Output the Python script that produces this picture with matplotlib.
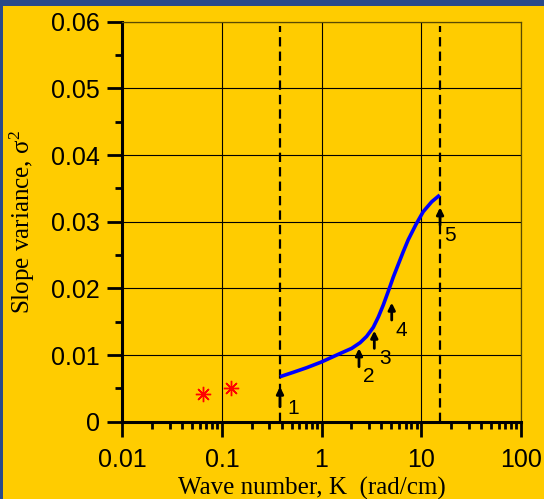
import matplotlib
matplotlib.use("Agg")
import matplotlib.pyplot as plt
from matplotlib.patches import Rectangle
from matplotlib.ticker import LogLocator, NullFormatter, MultipleLocator

# ---- data ----
k_curve = [0.383, 0.521, 0.710, 1.0, 1.47, 2.01, 2.44, 2.84, 3.31, 3.72, 4.17, 4.80,
           5.26, 5.90, 6.62, 7.43, 8.89, 10.5, 12.8, 15.4]
s_curve = [0.00675, 0.00741, 0.0081, 0.00896, 0.0101, 0.0110, 0.01185, 0.0128, 0.01415,
           0.0157, 0.0175, 0.0200, 0.0217, 0.0236, 0.0255, 0.0273, 0.0296, 0.0315,
           0.0330, 0.0340]
k_points = [0.064, 0.1225]
s_points = [0.00415, 0.0050]
k_bounds = [0.383, 15.5]
arrow_k = [0.383, 2.38, 3.39, 5.07, 15.5]
arrow_tip = [0.00525, 0.0110, 0.01365, 0.01785, 0.03215]
arrow_tail = [0.00225, 0.00825, 0.0110, 0.01525, 0.0295]
arrow_labels = ["1", "2", "3", "4", "5"]
label_k = [0.52, 2.95, 4.35, 6.38, 19.5]
label_s = [0.00205, 0.00675, 0.0095, 0.01365, 0.0280]
xtick_vals = [0.01, 0.1, 1, 10, 100]
xtick_labels = ["0.01", "0.1", "1", "10", "100"]
ytick_vals = [0, 0.01, 0.02, 0.03, 0.04, 0.05, 0.06]
ytick_labels = ["0", "0.01", "0.02", "0.03", "0.04", "0.05", "0.06"]

plt.rcParams['mathtext.fontset'] = 'custom'
plt.rcParams['mathtext.rm'] = 'Liberation Serif'
plt.rcParams['mathtext.it'] = 'Liberation Serif'

YELLOW = "#FFCC00"
fig = plt.figure(figsize=(5.44, 4.99), dpi=100, facecolor="#2a4a8a")
fig.patches.append(Rectangle((3 / 544, 0), 1, (499 - 6) / 499, transform=fig.transFigure,
                             facecolor=YELLOW, edgecolor="none", zorder=-10))

ax = fig.add_axes([122.3 / 544, (499 - 421.7) / 499, 398.4 / 544, 400 / 499])
ax.set_zorder(5)
ax.set_facecolor(YELLOW)
ax.set_xscale('log')
ax.set_xlim(0.01, 100)
ax.set_ylim(0, 0.06)

ax.grid(True, which='major', color='black', lw=0.8)
ax.set_axisbelow(True)

ax.spines['left'].set_linewidth(2.2)
ax.spines['bottom'].set_linewidth(2.2)
for s in ('top', 'right'):
    ax.spines[s].set_linewidth(0.9)
    ax.spines[s].set_color('#5a4a00')

ax.set_xticks(xtick_vals)
ax.set_xticklabels(xtick_labels)
ax.xaxis.set_minor_locator(LogLocator(base=10, subs=range(2, 10), numticks=20))
ax.xaxis.set_minor_formatter(NullFormatter())
ax.set_yticks(ytick_vals)
ax.set_yticklabels(ytick_labels)
ax.yaxis.set_minor_locator(MultipleLocator(0.005))

ax.tick_params(which='major', direction='out', length=11, width=2, pad=5,
               labelsize=18)
ax.tick_params(which='minor', direction='out', length=5, width=2)
ax.tick_params(axis='x', which='major', pad=8)
for lab in ax.get_xticklabels() + ax.get_yticklabels():
    lab.set_family('Liberation Sans')

# dashed boundaries
for kb in k_bounds:
    ax.plot([kb, kb], [0, 0.0593], color='black', lw=1.6, ls=(0, (4.2, 2.3)), zorder=3)

ax.plot(k_curve, s_curve, color='#0000FF', lw=2.6, zorder=4, solid_capstyle='butt',
        solid_joinstyle='round')
ax.plot(k_points, s_points, ls='none', marker=(8, 2, 0), ms=11, mew=1.0,
        color='#FF0000', zorder=5)

for k, tip, tail in zip(arrow_k, arrow_tip, arrow_tail):
    ax.annotate('', xy=(k, tip), xytext=(k, tail),
                arrowprops=dict(arrowstyle='-|>', color='black', lw=2,
                                mutation_scale=10, shrinkA=0, shrinkB=0), zorder=6)
for k, s, t in zip(label_k, label_s, arrow_labels):
    ax.text(k, s, t, fontsize=15, family='Liberation Sans', ha='center', va='center',
            zorder=6)

ax.set_xlabel('Wave number, K  (rad/cm)', fontsize=18, family='Liberation Serif')
ax.xaxis.set_label_coords(0.475, -0.168)
ax.xaxis.label.set_va('center')
ax.set_ylabel('Slope variance, σ$^{2}$', fontsize=18, family='Liberation Serif')
ax.yaxis.set_label_coords(-0.252, 0.5)
ax.yaxis.label.set_va('center')

fig.savefig('out.png', dpi=100, facecolor=fig.get_facecolor())
